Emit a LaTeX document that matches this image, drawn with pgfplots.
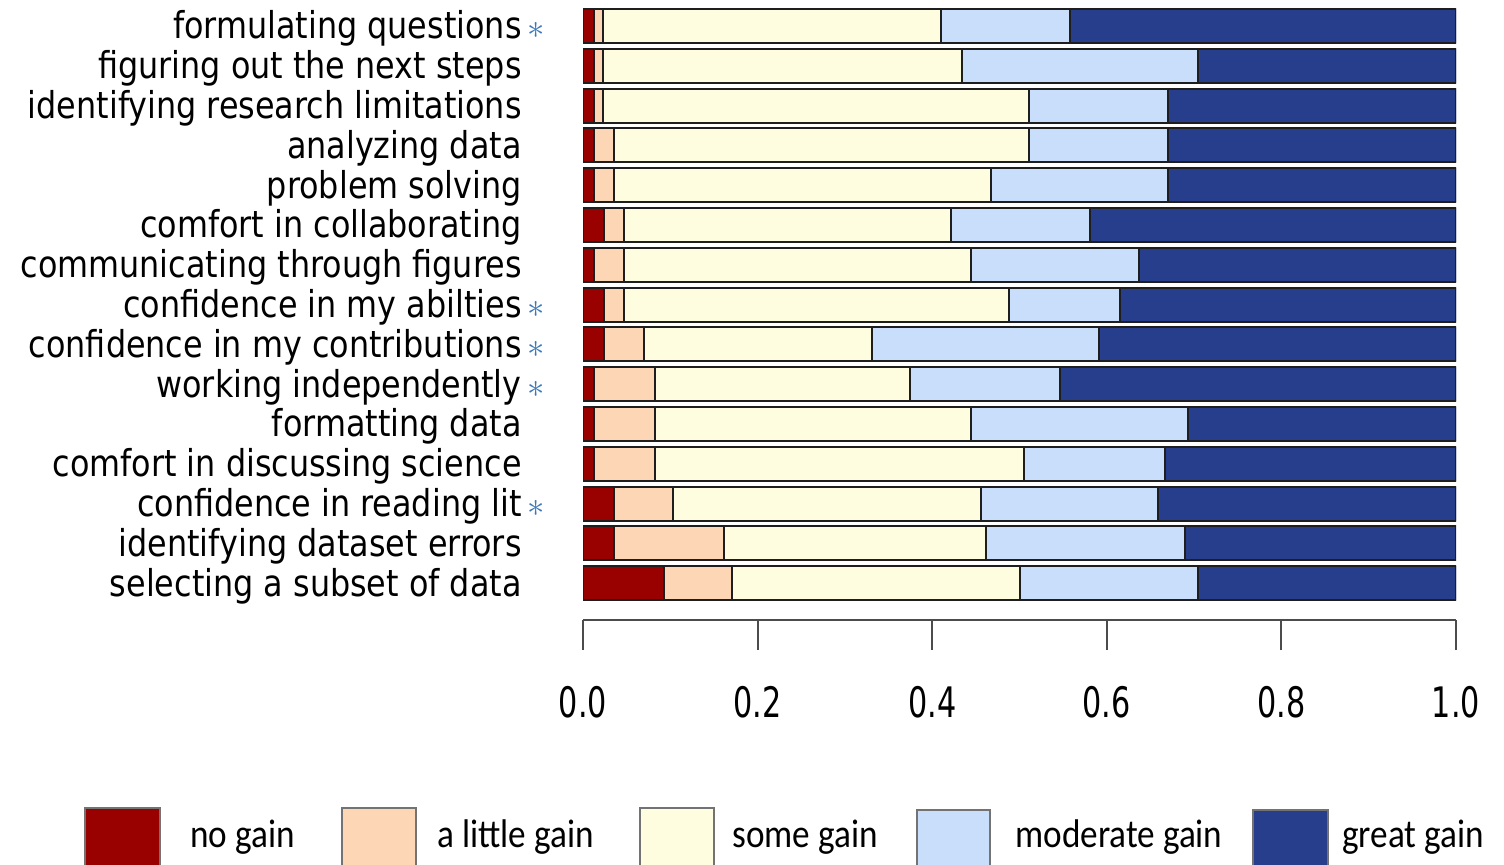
\documentclass[border=0pt]{standalone}
\usepackage{pgfplots}
\pgfplotsset{compat=1.18}
\usepackage{pgfplotstable}
\usepackage{fontspec}
\setmainfont{DejaVu Sans}[FakeStretch=0.86]
\newfontfamily\legfont{Carlito}[FakeStretch=0.88]
\newfontfamily\tickfont{DejaVu Sans}[FakeStretch=0.72]
\definecolor{nogain}{RGB}{153,0,0}
\definecolor{little}{RGB}{253,214,182}
\definecolor{some}{RGB}{255,253,224}
\definecolor{moderate}{RGB}{200,222,250}
\definecolor{great}{RGB}{38,62,140}
\definecolor{starblue}{RGB}{60,120,185}
\definecolor{edge}{RGB}{30,30,30}

% y = 0 is the bottom row
\pgfplotstableread{
y no little some moderate great
14 0.013 0.010 0.387 0.148 0.442
13 0.013 0.010 0.411 0.271 0.295
12 0.013 0.010 0.488 0.159 0.330
11 0.013 0.023 0.475 0.159 0.330
10 0.013 0.023 0.431 0.203 0.330
9  0.024 0.023 0.3745 0.1595 0.419
8  0.013 0.034 0.397 0.193 0.363
7  0.024 0.023 0.441 0.127 0.385
6  0.024 0.046 0.261 0.260 0.409
5  0.013 0.069 0.293 0.171 0.454
4  0.013 0.069 0.362 0.249 0.307
3  0.013 0.069 0.423 0.162 0.333
2  0.036 0.067 0.353 0.203 0.341
1  0.036 0.1255 0.300 0.228 0.310
0  0.093 0.078 0.329 0.205 0.295
}\datatable

\newcommand{\st}{\rlap{\,\textcolor{starblue}{$\ast$}}}

\begin{document}
\begin{tikzpicture}
\useasboundingbox (0,0) rectangle (752pt,-432.5pt);
\begin{axis}[
  at={(291.5pt,-3.05pt)}, anchor=north west,
  scale only axis, width=436.5pt, height=307.05pt,
  xbar stacked, bar width=17pt, bar shift=0pt,
  xmin=0, xmax=1, ymin=-0.93, ymax=14.5,
  axis x line=bottom, axis y line=left,
  x axis line style={-, line width=1pt, draw=black!70},
  y axis line style={draw=none},
  ytick={0,...,14},
  yticklabels={selecting a subset of data, identifying dataset errors, confidence in reading lit\st, comfort in discussing science, formatting data, working independently\st, confidence in my contributions\st, confidence in my abilties\st, communicating through figures, comfort in collaborating, problem solving, analyzing data, identifying research limitations, figuring out the next steps, formulating questions\st},
  ytick style={draw=none},
  yticklabel style={anchor=east, inner sep=0pt, xshift=-23pt, yshift=-4pt, text height=0.75em, text depth=0.25em, font=\fontsize{18.5}{22}\selectfont},
  xtick={0,0.2,0.4,0.6,0.8,1},
  xtick align=outside,
  xtick style={line width=1pt, draw=black!70},
  major tick length=15pt,
  /pgf/number format/assume math mode=true,
  xticklabel style={font=\tickfont\fontsize{21}{25}\selectfont, anchor=north, inner sep=0pt, yshift=-18pt, /pgf/number format/.cd, fixed, fixed zerofill, precision=1},
  every axis plot/.append style={draw=edge, line width=1pt},
]
\addplot[fill=nogain] table[x=no, y=y]{\datatable};
\addplot[fill=little] table[x=little, y=y]{\datatable};
\addplot[fill=some] table[x=some, y=y]{\datatable};
\addplot[fill=moderate] table[x=moderate, y=y]{\datatable};
\addplot[fill=great] table[x=great, y=y]{\datatable};
\end{axis}
\begin{scope}[x=0.5pt, y=-0.5pt]
\tikzset{lt/.style={anchor=base west, inner sep=0pt, font=\legfont\fontsize{20}{24}\selectfont}}
\filldraw[fill=nogain, draw=black!55, line width=0.75pt] (85,808) rectangle (160,870);
\node[lt] at (190,847) {no gain};
\filldraw[fill=little, draw=black!55, line width=0.75pt] (342,808) rectangle (416,870);
\node[lt] at (437,847) {a little gain};
\filldraw[fill=some, draw=black!55, line width=0.75pt] (640,808) rectangle (714,870);
\node[lt] at (732,847) {some gain};
\filldraw[fill=moderate, draw=black!55, line width=0.75pt] (917,810) rectangle (990,870);
\node[lt] at (1015,847) {moderate gain};
\filldraw[fill=great, draw=black!55, line width=0.75pt] (1253,810) rectangle (1328,870);
\node[lt] at (1342,847) {great gain};
\end{scope}
\end{tikzpicture}
\end{document}
